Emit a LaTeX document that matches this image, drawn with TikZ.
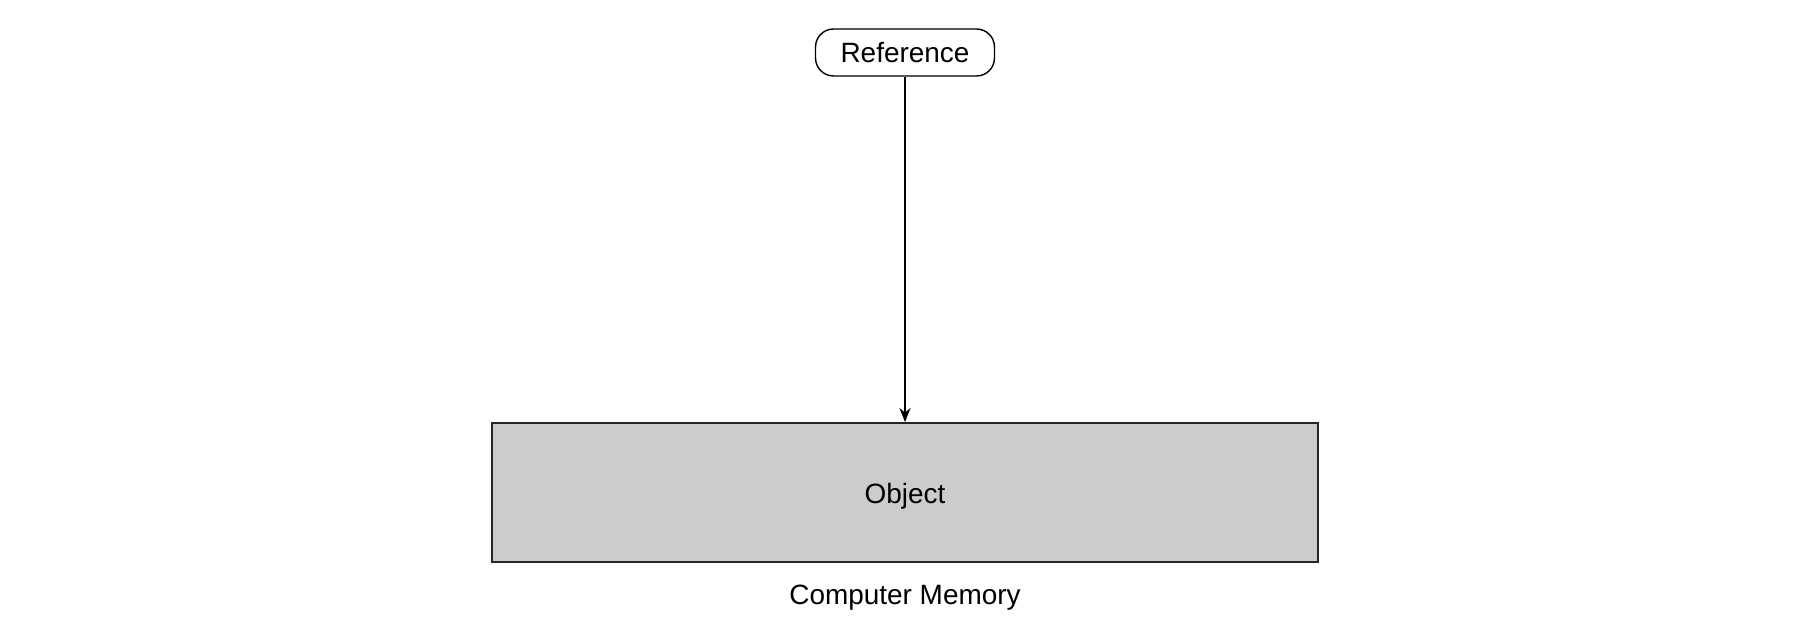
\documentclass[tikz,border=0pt]{standalone}
\usepackage{fontspec}
\setmainfont{Liberation Sans}
\usepackage{tikz}
\usetikzlibrary{arrows.meta,positioning}

\begin{document}
\begin{tikzpicture}[->,>={Stealth[length=0.28cm,width=0.22cm]},x=0.02cm,y=-0.02cm,thick,
		font=\fontsize{15.9}{19}\selectfont]
		\tikzstyle{refbox}=[draw=black,fill=white,rounded corners=0.36cm,minimum width=3.58cm,minimum height=0.94cm,inner sep=0pt]
		\tikzstyle{membox}=[draw=black!85,fill=black!20,line width=1.1pt,minimum width=16.54cm,minimum height=2.78cm,inner sep=0pt,text height=13pt,text depth=0pt]

		\useasboundingbox (0,0) rectangle (1800,631);

		\node[refbox] (ref) at (905,52.5) {Reference};
		\node[membox] (obj) at (905,492.5) {Object};
		\node[anchor=base] (memlabel) at (905,604) {Computer Memory};

		\path (ref) edge (obj);
	\end{tikzpicture}
\end{document}
